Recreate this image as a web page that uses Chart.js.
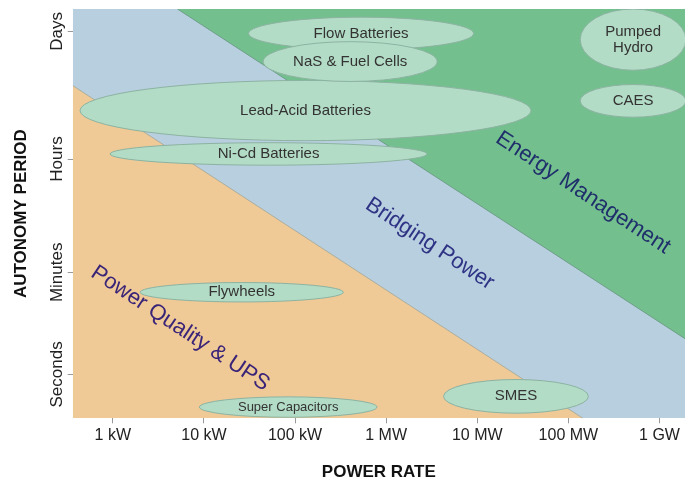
<!DOCTYPE html>
<html>
<head>
<meta charset="utf-8">
<script src="https://cdn.jsdelivr.net/npm/chart.js@4"></script>
<style>
  body { margin: 0; background: #fff; }
</style>
</head>
<body>
<canvas id="c" width="685" height="484"></canvas>
<script>
// x = log10(power in kW), y = autonomy level (tick spacing)
const powerLabels = ['1 kW', '10 kW', '100 kW', '1 MW', '10 MW', '100 MW', '1 GW'];
const powerValues = [0, 1, 2, 3, 4, 5, 6];
const autonomyLabels = ['Seconds', 'Minutes', 'Hours', 'Days'];
const autonomyValues = [1, 2, 3.11, 4.36];

const xRange = [-0.44, 6.28];
const yRange = [0.57, 4.58];

// application zones: boundary lines
const upsEdge = [[-0.44, 3.83], [5.16, 0.57]];
const energyEdge = [[0.71, 4.58], [6.28, 1.35]];

// technologies, drawn in this order
const techNames = ['Ni-Cd Batteries', 'Lead-Acid Batteries', 'Flow Batteries', 'NaS & Fuel Cells',
  'Pumped\nHydro', 'CAES', 'Flywheels', 'Super Capacitors', 'SMES'];
const techPowerLow  = [-0.03, -0.36, 1.49, 1.65, 5.13, 5.13, 0.30, 0.95, 3.63];
const techPowerHigh = [3.45, 4.59, 3.96, 3.56, 6.29, 6.29, 2.53, 2.90, 5.22];
const techAutLow    = [3.05, 3.29, 4.18, 3.87, 3.98, 3.52, 1.71, 0.58, 0.62];
const techAutHigh   = [3.27, 3.88, 4.50, 4.26, 4.58, 3.84, 1.90, 0.78, 0.95];

const zoneNames = ['Power Quality & UPS', 'Bridging Power', 'Energy Management'];

const FONT = "'Liberation Sans', Arial, Helvetica, sans-serif";

// where the zone captions sit (data coords) and how they look
const zoneStyle = [
  {x: 0.74, y: 1.45, color: '#3a2478'},
  {x: 3.48, y: 2.28, color: '#2e3384'},
  {x: 5.16, y: 2.78, color: '#1f2f6b'}
];

const toPts = arr => arr.map(p => ({x: p[0], y: p[1]}));

const techPlugin = {
  id: 'tech',
  afterDatasetsDraw(chart) {
    const {ctx, chartArea: a, scales: {x, y}} = chart;
    ctx.save();
    ctx.beginPath();
    ctx.rect(a.left, a.top, a.width, a.height);
    ctx.clip();

    // zone captions
    zoneNames.forEach((name, i) => {
      const s = zoneStyle[i];
      ctx.save();
      ctx.translate(x.getPixelForValue(s.x), y.getPixelForValue(s.y));
      ctx.rotate(33.5 * Math.PI / 180);
      ctx.font = '22px ' + FONT;
      ctx.fillStyle = s.color;
      ctx.textAlign = 'center';
      ctx.textBaseline = 'middle';
      ctx.fillText(name, 0, 0);
      ctx.restore();
    });

    // technology ellipses
    techNames.forEach((name, i) => {
      const x0 = x.getPixelForValue(techPowerLow[i]);
      const x1 = x.getPixelForValue(techPowerHigh[i]);
      const y0 = y.getPixelForValue(techAutHigh[i]);
      const y1 = y.getPixelForValue(techAutLow[i]);
      const cx = (x0 + x1) / 2, cy = (y0 + y1) / 2;
      ctx.beginPath();
      ctx.ellipse(cx, cy, (x1 - x0) / 2, (y1 - y0) / 2, 0, 0, Math.PI * 2);
      ctx.fillStyle = '#b3dcc6';
      ctx.fill();
      ctx.strokeStyle = '#8cb3a2';
      ctx.lineWidth = 1;
      ctx.stroke();

      const lines = name.split('\n');
      const size = name == 'Super Capacitors' ? 13 : 15;
      ctx.font = size + 'px ' + FONT;
      ctx.fillStyle = '#333';
      ctx.textAlign = 'center';
      ctx.textBaseline = 'middle';
      const lh = size * 1.1;
      lines.forEach((ln, k) => {
        ctx.fillText(ln, cx, cy + (k - (lines.length - 1) / 2) * lh);
      });
    });
    ctx.restore();
  }
};

const zoneLine = {
  showLine: true, pointRadius: 0, borderWidth: 1, tension: 0
};

new Chart(document.getElementById('c'), {
  type: 'line',
  data: {
    datasets: [
      Object.assign({}, zoneLine, {
        label: 'Energy Management',
        data: toPts(energyEdge),
        borderColor: '#6e9f88',
        backgroundColor: '#74bf8e',
        fill: 'end',
        order: 1
      }),
      Object.assign({}, zoneLine, {
        label: 'Power Quality & UPS',
        data: toPts(upsEdge),
        borderColor: '#a9aea0',
        backgroundColor: '#efc996',
        fill: 'start',
        order: 2
      }),
      Object.assign({}, zoneLine, {
        label: 'Bridging Power',
        data: [{x: xRange[0], y: yRange[1]}, {x: xRange[1], y: yRange[1]}],
        borderWidth: 0,
        borderColor: 'rgba(0,0,0,0)',
        backgroundColor: '#b8cfe0',
        fill: 'start',
        order: 3
      })
    ]
  },
  options: {
    responsive: false,
    animation: false,
    devicePixelRatio: 1,
    layout: { padding: {top: 9, left: 0, right: 0, bottom: 0} },
    plugins: {
      legend: { display: false },
      tooltip: { enabled: false }
    },
    scales: {
      x: {
        type: 'linear',
        min: xRange[0],
        max: xRange[1],
        afterBuildTicks: s => { s.ticks = powerValues.map(v => ({value: v})); },
        afterFit: s => { s.height = 65.7; s.paddingLeft = 0; s.paddingRight = 0; },
        ticks: {
          autoSkip: false,
          maxRotation: 0,
          font: {family: FONT, size: 16},
          color: '#222',
          callback: (v, i) => powerLabels[i]
        },
        grid: { drawOnChartArea: false, tickLength: 5, color: '#999' },
        border: { display: false },
        title: {
          display: true,
          text: 'POWER RATE',
          font: {family: FONT, size: 17, weight: 'bold'},
          color: '#111',
          padding: {top: 0, bottom: 1}
        }
      },
      y: {
        type: 'linear',
        min: yRange[0],
        max: yRange[1],
        afterBuildTicks: s => { s.ticks = autonomyValues.map(v => ({value: v})); },
        afterFit: s => { s.width = 72.7; s.paddingTop = 0; s.paddingBottom = 0; },
        ticks: {
          autoSkip: false,
          minRotation: 90,
          maxRotation: 90,
          crossAlign: 'center',
          padding: -23,
          font: {family: FONT, size: 17},
          color: '#222',
          callback: (v, i) => autonomyLabels[i]
        },
        grid: { drawOnChartArea: false, tickLength: 5, color: '#999' },
        border: { display: false },
        title: {
          display: true,
          text: 'AUTONOMY PERIOD',
          font: {family: FONT, size: 17, weight: 'bold'},
          color: '#111',
          padding: {top: 11, bottom: 0}
        }
      }
    }
  },
  plugins: [techPlugin]
});
</script>
</body>
</html>
